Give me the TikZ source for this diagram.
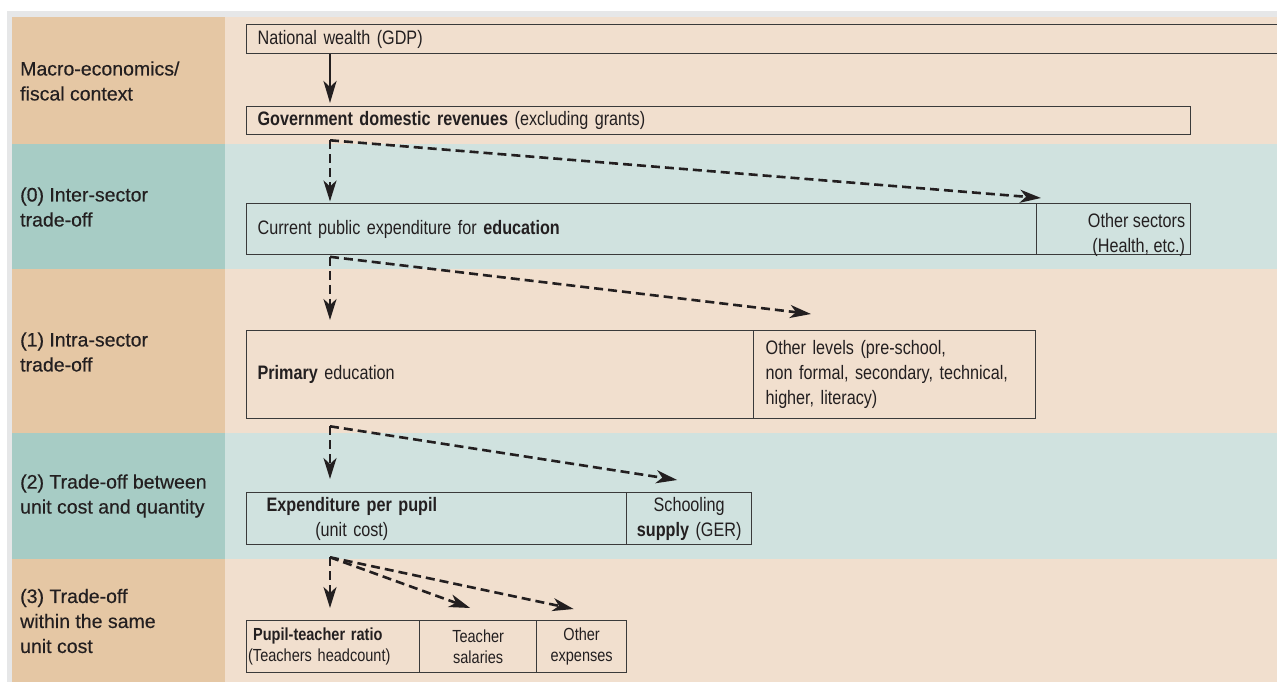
\documentclass[tikz,border=0pt]{standalone}
\usepackage{fontspec}
\setmainfont{Liberation Sans}
\newfontfamily\labf[FakeBold=0.35]{Liberation Sans}
\newfontfamily\condf[FakeStretch=0.83]{Liberation Sans}
\usetikzlibrary{arrows.meta,calc}
\definecolor{tanD}{HTML}{E5C7A4}
\definecolor{tanL}{HTML}{F1DFCE}
\definecolor{tealD}{HTML}{A7CCC5}
\definecolor{tealL}{HTML}{D0E2DF}
\definecolor{framegray}{HTML}{E6E7E8}
\definecolor{ink}{HTML}{231F20}
\definecolor{boxline}{HTML}{3A3A3A}
\begin{document}
\begin{tikzpicture}[x=1pt,y=-1pt,
  box/.style={draw=boxline,line width=1.3pt,anchor=north west,inner ysep=0pt,
    text=ink,font=\condf\fontsize{19.5}{25}\selectfont},
  boxtext/.style={text=ink,inner sep=0pt,font=\condf\fontsize{19.5}{25}\selectfont},
  smallbox/.style={box,font=\condf\fontsize{17.5}{21}\selectfont},
  lab/.style={anchor=west,align=left,text=ink,inner sep=0pt,
    font=\labf\fontsize{19.5}{25}\selectfont},
  solidarr/.style={draw=ink,line width=2.8pt,-{Stealth[length=22pt,width=13pt,inset=6pt]}},
  dasharr/.style={draw=ink,line width=2.6pt,dash pattern=on 9pt off 5pt,
    -{Stealth[length=21pt,width=13pt,inset=6pt]}}]
\useasboundingbox (0,0) rectangle (1277,682);
\clip (0,0) rectangle (1277,682);
% background
\fill[white] (0,0) rectangle (1277,682);
\fill[framegray] (7,11) rectangle (1277,682);
% bands
\fill[tanD]  (12,17)  rectangle (225,144);
\fill[tanL]  (225,17) rectangle (1277,144);
\fill[tealD] (12,144) rectangle (225,269);
\fill[tealL] (225,144) rectangle (1277,269);
\fill[tanD]  (12,269) rectangle (225,433);
\fill[tanL]  (225,269) rectangle (1277,433);
\fill[tealD] (12,433) rectangle (225,559);
\fill[tealL] (225,433) rectangle (1277,559);
\fill[tanD]  (12,559) rectangle (225,682);
\fill[tanL]  (225,559) rectangle (1277,682);
% left labels
\node[lab] (lab0) at (20,81)  {Macro-economics/\\fiscal context};
\node[lab] (lab1) at (20,207) {(0) Inter-sector\\trade-off};
\node[lab] (lab2) at (20,352) {(1) Intra-sector\\trade-off};
\node[lab] (lab3) at (20,496) {(2) Trade-off between\\unit cost and quantity};
\node[lab] (lab4) at (20,621) {(3) Trade-off\\within the same\\unit cost};
% boxes
\node[box,minimum width=1051pt,minimum height=29pt,inner xsep=11pt,text width=1029pt,align=left]
  (nat) at (246,24) {National wealth (GDP)};
\node[box,minimum width=944pt,minimum height=28pt,inner xsep=11pt,text width=922pt,align=left]
  (gov) at (246,106) {\textbf{Government domestic revenues} (excluding grants)};
\node[box,minimum width=790pt,minimum height=51pt,inner xsep=11pt,text width=768pt,align=left]
  (cur) at (246,203) {Current public expenditure for \textbf{education}};
\node[box,minimum width=154pt,minimum height=51pt] (oth) at (1036,203) {};
\node[boxtext,anchor=north east,align=right] (othtxt) at ($(oth.north east)+(-6,10)$)
  {Other sectors\\(Health, etc.)};
\node[box,minimum width=507pt,minimum height=88pt,inner xsep=11pt,text width=485pt,align=left]
  (pri) at (246,330) {\textbf{Primary} education};
\node[box,minimum width=282pt,minimum height=88pt,inner xsep=12pt,text width=258pt,align=left]
  (olv) at (753,330) {Other levels (pre-school,\\non formal, secondary, technical,\\higher, literacy)};
\node[box,minimum width=380pt,minimum height=52pt,inner xsep=20pt,text width=340pt,align=left]
  (exp) at (246,492) {\begin{tabular}{@{}c@{}}\textbf{Expenditure per pupil}\\(unit cost)\end{tabular}};
\node[box,minimum width=125pt,minimum height=52pt,inner xsep=4pt,text width=117pt,align=center]
  (sup) at (626,492) {Schooling\\\textbf{supply} (GER)};
\node[smallbox,minimum width=173pt,minimum height=52pt,inner xsep=1.5pt,text width=170pt,align=left]
  (ptr) at (246,620) {\hspace*{5pt}\textbf{Pupil-teacher ratio}\\(Teachers headcount)};
\node[smallbox,minimum width=117pt,minimum height=52pt,inner xsep=3pt,text width=111pt,align=center]
  (tsl) at (419,620) {Teacher\\salaries};
\node[smallbox,minimum width=90pt,minimum height=52pt,inner xsep=3pt,text width=84pt,align=center]
  (oex) at (536,620) {Other\\expenses};
% connectors
\coordinate (trunk) at (330,0);
\draw[solidarr,shorten >=3pt] (nat.south -| trunk) -- (gov.north -| trunk);
\coordinate (g0) at ($(gov.south -| trunk)+(0,5)$);
\coordinate (g1) at ($(oth.north west)+(5,-5)$);
\draw[dasharr,shorten >=1.5pt] (g0) -- (cur.north -| trunk);
\draw[dasharr] (g0) -- (g1);
\coordinate (c0) at ($(cur.south -| trunk)+(0,1.5)$);
\coordinate (c1) at ($(olv.north west)+(58,-16)$);
\draw[dasharr,shorten >=10pt] (c0) -- (pri.north -| trunk);
\draw[dasharr] (c0) -- (c1);
\coordinate (p0) at ($(pri.south -| trunk)+(0,7)$);
\coordinate (p1) at ($(sup.north)+(-12,-12)$);
\draw[dasharr,shorten >=13pt] (p0) -- (exp.north -| trunk);
\draw[dasharr] (p0) -- (p1);
\coordinate (e0) at ($(exp.south -| trunk)+(0,12)$);
\coordinate (e1) at ($(tsl.north)+(-8,-12)$);
\coordinate (e2) at ($(oex.north)+(-8,-11)$);
\draw[dasharr,shorten >=12pt] (e0) -- (ptr.north -| trunk);
\draw[dasharr] (e0) -- (e1);
\draw[dasharr] (e0) -- (e2);
\end{tikzpicture}
\end{document}
